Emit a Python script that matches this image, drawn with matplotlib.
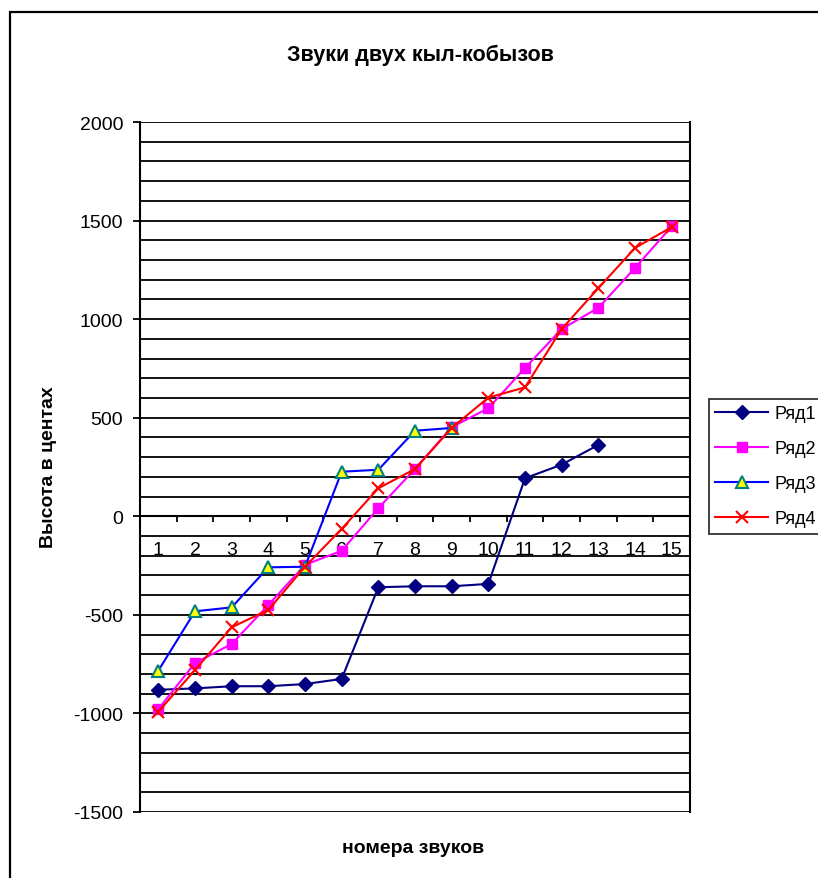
import numpy as np
import matplotlib
matplotlib.use("Agg")
import matplotlib.pyplot as plt
import matplotlib.patches as patches

plt.rcParams["font.family"] = ["Liberation Sans", "DejaVu Sans"]
plt.rcParams["axes.unicode_minus"] = False

# ================= DATA =================
categories = list(range(1, 16))
series_names = ["Ряд1", "Ряд2", "Ряд3", "Ряд4"]

row1 = [-880, -873, -862, -862, -851, -825, -360, -355, -355, -343, 193, 262, 362]
row2 = [-978, -744, -648, -450, -246, -175, 41, 240, 452, 548, 752, 950, 1057, 1260, 1470]
row3 = [-783, -482, -462, -259, -256, 226, 236, 434, 448]
row4 = [-991, -780, -563, -475, -256, -64, 142, 240, 448, 602, 654, 950, 1157, 1361, 1467]

y_ticks = [-1500, -1000, -500, 0, 500, 1000, 1500, 2000]

title = "Звуки двух кыл-кобызов"
x_title = "номера звуков"
y_title = "Высота в центах"

# ================= FIGURE =================
W, H = 818, 879
fig = plt.figure(figsize=(W / 100, H / 100), dpi=100)
ax = fig.add_axes([140 / W, 1 - 813 / H, 550 / W, 690 / H])

# outer chart frame (runs past the right and bottom edge)
frame = patches.Rectangle(
    (10 / W, -0.05), 1.2, 1 - 13 / H + 0.05,
    transform=fig.transFigure, fill=False, edgecolor="black",
    linewidth=1.6, clip_on=False
)
fig.add_artist(frame)

# horizontal grid every 100 cents
for v in range(-1500, 2001, 100):
    ax.axhline(v, color="black", linewidth=1.3, zorder=1)

styles = [
    dict(color="#000080", marker="D", markersize=7, markerfacecolor="#000080",
         markeredgecolor="#000080"),
    dict(color="#FF00FF", marker="s", markersize=7.5, markerfacecolor="#FF00FF",
         markeredgecolor="#FF00FF"),
    dict(color="#0000FF", marker="^", markersize=9, markerfacecolor="#FFFF00",
         markeredgecolor="#008080", markeredgewidth=1.5),
    dict(color="#FF0000", marker="x", markersize=8, markeredgewidth=1.5),
]
for name, vals, st in zip(series_names, [row1, row2, row3, row4], styles):
    ax.plot(categories[:len(vals)], vals, linewidth=1.5, label=name,
            zorder=3, clip_on=False, **st)

ax.set_xlim(0.5, 15.5)
ax.set_ylim(-1500, 2000)

# value axis
ax.set_yticks(y_ticks)
ax.tick_params(axis="y", direction="out", length=5, width=1.3, pad=7,
               labelsize=14, colors="black")

# category axis crosses at zero, ticks between categories
ax.spines["bottom"].set_position(("data", 0))
ax.spines["top"].set_visible(False)
for s in ["left", "right", "bottom"]:
    ax.spines[s].set_linewidth(1.5)
ax.set_xticks(np.arange(0.5, 16, 1.0), labels=[])
ax.set_xticks(categories, labels=[str(c) for c in categories], minor=True)
ax.tick_params(axis="x", which="major", direction="out", length=4, width=1.3)
ax.tick_params(axis="x", which="minor", length=0, pad=18, labelsize=14)

fig.text(420 / W, 1 - 55 / H, title, ha="center", va="center",
         fontsize=15.5, fontweight="bold")
fig.text(413 / W, 1 - 849 / H, x_title, ha="center", va="center",
         fontsize=14, fontweight="bold")
fig.text(49 / W, 1 - 467 / H, y_title, ha="center", va="center",
         rotation=90, fontsize=14, fontweight="bold")

leg = fig.legend(
    loc="upper left", bbox_to_anchor=(709 / W, 1 - 400 / H),
    bbox_transform=fig.transFigure, fontsize=13, frameon=True,
    fancybox=False, borderaxespad=0, handlelength=2.9, labelspacing=1.0,
    handletextpad=0.35, borderpad=0.35
)
leg.get_frame().set_edgecolor("black")
leg.get_frame().set_linewidth(1.3)

fig.savefig("out.png", dpi=100)
